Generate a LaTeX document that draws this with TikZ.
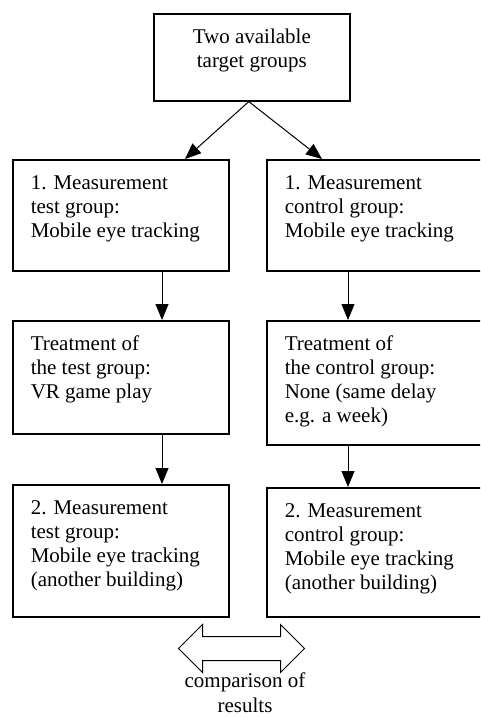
\documentclass[tikz,border=0pt]{standalone}
\usepackage{fontspec}
\setmainfont{Liberation Serif}
\usetikzlibrary{calc, positioning}
\usetikzlibrary{arrows.meta}
\usetikzlibrary{shapes.arrows}

\newcommand{\stagetext}[3]{\parbox[c][\dimexpr #1pt-24.8pt\relax][t]{#2pt}{\strut #3}}

\begin{document}
\begin{tikzpicture}[x=1pt, y=-1pt,
	font=\fontsize{21}{24.2}\selectfont,
	stage/.style={draw, line width=1.6pt, anchor=north west, inner xsep=18pt, inner ysep=12.4pt},
	flow/.style={-{Triangle[length=16pt,width=13pt]}, line width=1pt}]
	\useasboundingbox (0,0) rectangle (480,717);
	\clip (0,0) rectangle (480,717);
	
	\node[stage] (groups) at (153,13) {\stagetext{87}{160}{\centering Two available\\ target groups}};
	
	\node[stage] (m1test) at (12,159) {\stagetext{111}{180}{1. Measurement\\ test group:\\ Mobile eye tracking}};
	\node[stage] (m1ctrl) at (266,159) {\stagetext{111}{200}{1. Measurement\\ control group:\\ Mobile eye tracking}};
	
	\node[stage] (trtest) at (12,320) {\stagetext{113}{180}{Treatment of\\ the test group:\\ VR game play}};
	\node[stage] (trctrl) at (266,320) {\stagetext{124}{200}{Treatment of\\ the control group:\\ None (same delay\\ e.g. a week)}};
	
	\node[stage] (m2test) at (12,484) {\stagetext{132}{180}{2. Measurement\\ test group:\\ Mobile eye tracking\\ (another building)}};
	\node[stage] (m2ctrl) at (266,487) {\stagetext{129}{200}{2. Measurement\\ control group:\\ Mobile eye tracking\\ (another building)}};
	
	\draw[flow] ($(groups.south)+(-3,0)$) -- ($(m1test.north west)+(173,0)$);
	\draw[flow] ($(groups.south)+(-3,0)$) -- ($(m1ctrl.north west)+(56,0)$);
	
	\draw[flow] ($(m1test.south west)+(150,0)$) -- ($(trtest.north west)+(150,0)$);
	\draw[flow] ($(m1ctrl.south west)+(82,0)$) -- ($(trctrl.north west)+(82,0)$);
	\draw[flow] ($(trtest.south west)+(150,0)$) -- ($(m2test.north west)+(150,0)$);
	\draw[flow] ($(trctrl.south west)+(82,0)$) -- ($(m2ctrl.north west)+(82,0)$);
	
	\node[draw, line width=1pt, double arrow, minimum height=126pt, inner xsep=0pt, inner ysep=11.5pt,
		double arrow head extend=12pt, double arrow head indent=0pt] (cmp) at (241.5,648.5) {};
	\node[anchor=north, inner sep=0pt, align=center] (cmplbl) at (245,673) {comparison of\\ results};
\end{tikzpicture}
\end{document}
